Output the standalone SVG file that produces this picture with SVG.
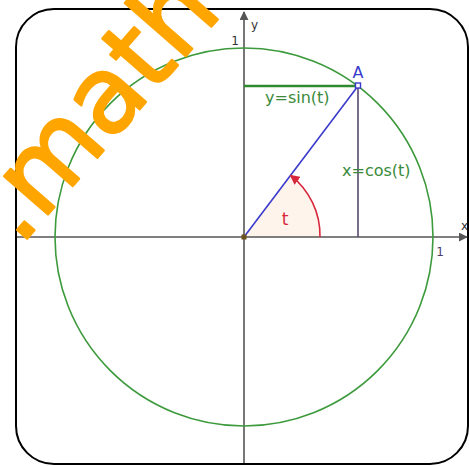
<svg xmlns="http://www.w3.org/2000/svg" width="469" height="466" viewBox="0 0 469 466">
<style>
text{font-family:"DejaVu Sans","Liberation Sans",sans-serif}
.ax{stroke:#555;stroke-width:1.6;fill:none}
.lbl{font-size:12px;fill:#333}
.grn{fill:#3a8a3a;font-size:16px}
</style>
<defs>
<marker id="ah" viewBox="0 0 10 10" refX="9" refY="5" markerWidth="9" markerHeight="9" markerUnits="userSpaceOnUse" orient="auto">
<path d="M0 0 L10 5 L0 10 Z" fill="#555"/>
</marker>
<marker id="rh" viewBox="0 0 10 10" refX="9" refY="5" markerWidth="10" markerHeight="10" markerUnits="userSpaceOnUse" orient="auto">
<path d="M0 0 L10 5 L0 10 Z" fill="#d8283c"/>
</marker>
</defs>
<rect id="frame" x="16" y="9" width="452" height="455" rx="38" ry="38" fill="#fff" stroke="#000" stroke-width="2"/>
<g id="sector">
<path d="M244 237 L320 237 A76 76 0 0 0 289.6 176.2 Z" fill="#fff4ec"/>
</g>
<g id="axes">
<line class="ax" x1="17" y1="237" x2="467" y2="237" marker-end="url(#ah)"/>
<line class="ax" x1="244" y1="463" x2="244" y2="12" marker-end="url(#ah)"/>
<text class="lbl" x="251" y="29">y</text>
<text class="lbl" x="461" y="230">x</text>
<text class="lbl" x="235" y="45" text-anchor="middle">1</text>
<text class="lbl" x="440" y="256" text-anchor="middle" style="fill:#4b3b6b">1</text>
</g>
<g id="circle">
<circle cx="244" cy="237" r="189" fill="none" stroke="#3c9a3c" stroke-width="1.6"/>
</g>
<g id="connectors">
<line x1="244" y1="86" x2="358" y2="86" stroke="#2f8a2f" stroke-width="2.5"/>
<line x1="358" y1="86" x2="358" y2="237" stroke="#5a4a70" stroke-width="1.6"/>
<line x1="244" y1="237" x2="358" y2="86" stroke="#3a3acc" stroke-width="1.6"/>
<path d="M320 237 A76 76 0 0 0 290.5 175.4" fill="none" stroke="#d8283c" stroke-width="1.6" marker-end="url(#rh)"/>
</g>
<g id="point-A">
<rect x="355.5" y="83" width="5" height="5" fill="#fff" stroke="#3a3acc" stroke-width="1.4"/>
<text x="358" y="78" text-anchor="middle" style="fill:#3a3acc;font-size:16px">A</text>
</g>
<g id="origin">
<rect x="241.5" y="234.5" width="5" height="5" fill="#6b5020"/>
</g>
<g id="labels">
<text class="grn" x="265" y="103">y=sin(t)</text>
<text class="grn" x="342" y="176">x=cos(t)</text>
<text x="285" y="225" text-anchor="middle" style="fill:#d8283c;font-size:17px">t</text>
</g>
<g id="watermark">
<text x="19.7" y="247" transform="rotate(-49 19.7 247)" style="fill:#ffa500;stroke:#ffa500;stroke-width:2.5;stroke-linejoin:round;font-size:106px">.mathe</text>
</g>
</svg>
